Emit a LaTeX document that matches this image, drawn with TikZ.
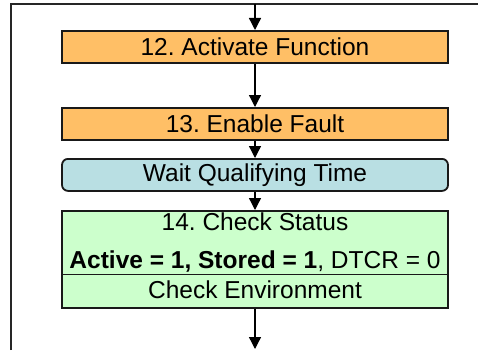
\documentclass[tikz,border=0pt]{standalone}
\usepackage{fontspec}
\setmainfont{Liberation Sans}
\usetikzlibrary{arrows.meta}
\frenchspacing
\definecolor{stepOrange}{HTML}{FFBF66}
\definecolor{waitBlue}{HTML}{B9DFE3}
\definecolor{checkGreen}{HTML}{CCFFCC}
\tikzset{
  every picture/.style={x=1pt,y=-1pt},
  boxtext/.style={font=\fontsize{24.5}{29}\selectfont},
  stepbox/.style={draw=black!90, line width=1.8pt, minimum width=386pt, minimum height=32pt,
    inner sep=0pt, anchor=north, boxtext},
  flow/.style={line width=1.3pt, -{Triangle[width=12pt,length=12pt]}},
  frameline/.style={line width=2pt, draw=black!85}
}
\begin{document}
\begin{tikzpicture}
  \useasboundingbox (0,0) rectangle (478,350);
  % enclosing frame (partly shown)
  \coordinate (fl) at (11,350);
  \coordinate (ftl) at (11,4);
  \coordinate (ftr) at (479,4);
  \draw[frameline] (fl) -- (ftl) -- (ftr);
  \coordinate (in) at (255,4);
  \coordinate (out) at (255,349);

  % steps
  \node[stepbox, fill=stepOrange] (s12) at (255,30) {12. Activate Function};
  \node[stepbox, fill=stepOrange] (s13) at (255,107) {13. Enable Fault};
  \node[stepbox, fill=waitBlue, rounded corners=6pt] (wait) at (255,158) {Wait Qualifying Time};

  % check block: status and environment
  \node[draw=black!90, line width=1.8pt, fill=checkGreen, minimum width=386pt,
        minimum height=97pt, inner sep=0pt, anchor=north] (s14) at (255,210) {};
  \node[boxtext, anchor=base] (s14a) at (255,230) {14. Check Status};
  \node[boxtext, anchor=base] (s14b) at (255,268) {\textbf{Active = 1, Stored = 1}, DTCR = 0};
  \node[boxtext, anchor=base] (s14c) at (255,298) {Check Environment};
  \coordinate (divl) at (62,274.5);
  \coordinate (divr) at (448,274.5);
  \draw[line width=1.5pt, black!90] (divl) -- (divr);

  % connectors
  \draw[flow] (in) -- (s12.north);
  \draw[flow] (s12.south) -- (s13.north);
  \draw[flow] (s13.south) -- (wait.north);
  \draw[flow] (wait.south) -- (s14.north);
  \draw[flow] (s14.south) -- (out);
\end{tikzpicture}
\end{document}
